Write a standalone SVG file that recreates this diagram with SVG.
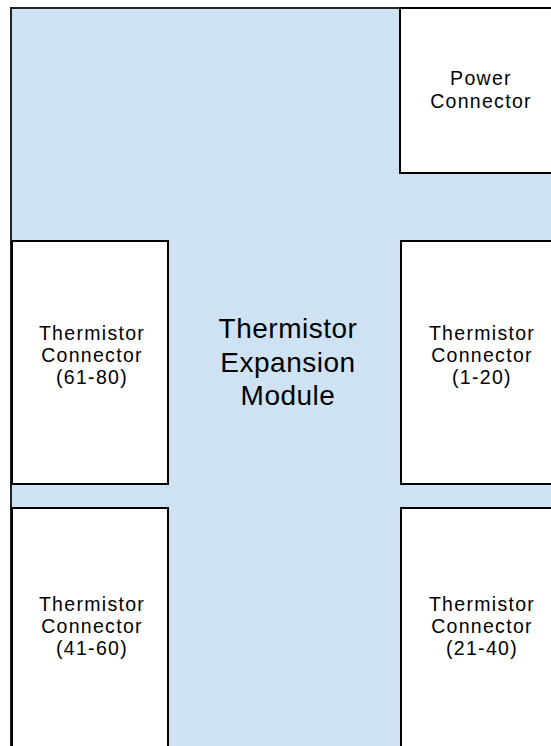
<svg xmlns="http://www.w3.org/2000/svg" width="551" height="746" viewBox="0 0 551 746">
<style>
.box{fill:#ffffff;stroke:#000000;stroke-width:2}
.t{font-family:"Liberation Sans",Arial,sans-serif;font-size:19.5px;letter-spacing:1.3px;fill:#000000;text-anchor:middle}
.big{font-family:"Liberation Sans",Arial,sans-serif;font-size:28px;letter-spacing:0.5px;fill:#000000;text-anchor:middle}
</style>
<rect width="551" height="746" fill="#ffffff"/>
<g id="module">
<rect x="11" y="8" width="560" height="760" fill="#cfe2f3" stroke="#222222" stroke-width="2"/>
<text class="big" x="288" y="338">Thermistor</text>
<text class="big" x="288" y="372">Expansion</text>
<text class="big" x="288" y="405">Module</text>
</g>
<g id="power">
<rect class="box" x="400" y="8" width="161" height="165"/>
<text class="t" x="481" y="85">Power</text>
<text class="t" x="481" y="108">Connector</text>
</g>
<g id="t61">
<rect class="box" x="12" y="241" width="156" height="243"/>
<text class="t" x="92" y="340">Thermistor</text>
<text class="t" x="92" y="362">Connector</text>
<text class="t" x="92" y="384">(61-80)</text>
</g>
<g id="t1">
<rect class="box" x="401" y="241" width="160" height="243"/>
<text class="t" x="482" y="340">Thermistor</text>
<text class="t" x="482" y="362">Connector</text>
<text class="t" x="482" y="384">(1-20)</text>
</g>
<g id="t41">
<rect class="box" x="12" y="508" width="156" height="250"/>
<text class="t" x="92" y="611">Thermistor</text>
<text class="t" x="92" y="633">Connector</text>
<text class="t" x="92" y="655">(41-60)</text>
</g>
<g id="t21">
<rect class="box" x="401" y="508" width="160" height="250"/>
<text class="t" x="482" y="611">Thermistor</text>
<text class="t" x="482" y="633">Connector</text>
<text class="t" x="482" y="655">(21-40)</text>
</g>
<g id="connectors"></g>
</svg>
